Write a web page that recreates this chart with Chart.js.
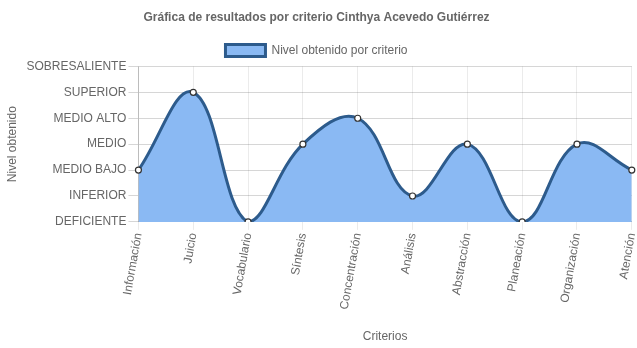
<!DOCTYPE html>
<html>
<head>
<meta charset="utf-8">
<script src="https://cdn.jsdelivr.net/npm/chart.js@4/dist/chart.umd.min.js"></script>
<style>
  html, body { margin: 0; padding: 0; background: #fff; }
  #wrap { width: 637px; height: 348px; }
</style>
</head>
<body>
<div id="wrap"><canvas id="grafica"></canvas></div>
<script>
const criterios = ["Información", "Juicio", "Vocabulario", "Síntesis", "Concentración",
  "Análisis", "Abstracción", "Planeación", "Organización", "Atención"];
const niveles = ["DEFICIENTE", "INFERIOR", "MEDIO BAJO", "MEDIO", "MEDIO ALTO", "SUPERIOR", "SOBRESALIENTE"];
const resultados = [2, 5, 0, 3, 4, 1, 3, 0, 3, 2];

Chart.defaults.font.family = "Arial, 'Liberation Sans', sans-serif";
Chart.defaults.font.size = 12;
Chart.defaults.color = "#666";

new Chart(document.getElementById("grafica").getContext("2d"), {
  type: "line",
  data: {
    labels: criterios,
    datasets: [{
      label: "Nivel obtenido por criterio",
      data: resultados,
      fill: "start",
      backgroundColor: "#8ab9f3",
      borderColor: "#2d5b8c",
      borderWidth: 3,
      tension: 0.4,
      pointRadius: 3,
      pointBackgroundColor: "#fff",
      pointBorderColor: "#333",
      pointBorderWidth: 1.2
    }]
  },
  options: {
    responsive: true,
    maintainAspectRatio: false,
    animation: false,
    layout: { padding: { right: 4 } },
    plugins: {
      title: {
        display: true,
        text: "Gráfica de resultados por criterio Cinthya Acevedo Gutiérrez",
        font: { size: 12, weight: "bold" },
        color: "#666"
      },
      legend: {
        labels: { boxWidth: 40, boxHeight: 12 }
      },
      tooltip: { enabled: false }
    },
    scales: {
      y: {
        min: 0,
        max: 6,
        ticks: {
          stepSize: 1,
          padding: 2,
          color: "#666",
          callback: (v) => niveles[v]
        },
        grid: { color: "rgba(0,0,0,0.16)", tickLength: 10 },
        border: { color: "rgba(0,0,0,0.2)" },
        title: { display: true, text: "Nivel obtenido", padding: 5 }
      },
      x: {
        ticks: {
          minRotation: 80,
          maxRotation: 80,
          padding: 2,
          color: "#666"
        },
        grid: { color: "rgba(0,0,0,0.08)", tickLength: 8 },
        border: { color: "rgba(0,0,0,0.2)" },
        title: { display: true, text: "Criterios", padding: { top: 17, bottom: 4 } },
        // let the last rotated label run to the canvas edge
        afterFit: (scale) => { scale.paddingRight = 0; }
      }
    }
  }
});
</script>
</body>
</html>
